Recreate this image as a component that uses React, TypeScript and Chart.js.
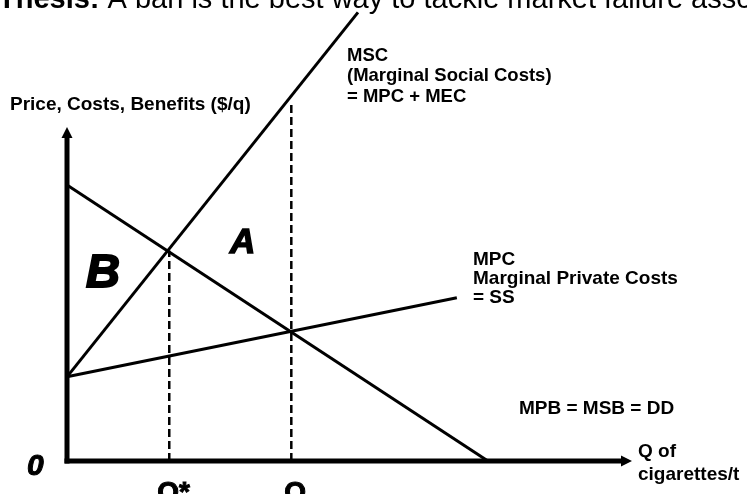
import React, { useEffect, useRef } from "react";
import { Chart, registerables } from "chart.js";

Chart.register(...registerables);

// ---- data (arbitrary units: quantity 0..100, price 0..100) ----
const demandCurve = [
  { x: 0, y: 82.6 },
  { x: 74.5, y: 0 },
];
const mscCurve = [
  { x: 0, y: 25.2 },
  { x: 51.5, y: 134.3 },
];
const mpcCurve = [
  { x: 0, y: 25.2 },
  { x: 69, y: 48.9 },
];
const qStar = 18.1;
const qStarPrice = 63;
const qMarket = 39.7;
const qMarketMsc = 107;
const axisMax = 100;

const titleBold = "Thesis:";
const titleRest = " A ban is the best way to tackle market failure associated with smoking";
const yAxisTitle = "Price, Costs, Benefits ($/q)";
const xAxisTitle = ["Q of", "cigarettes/t"];
const mscLabel = ["MSC", "(Marginal Social Costs)", "= MPC + MEC"];
const mpcLabel = ["MPC", "Marginal Private Costs", "= SS"];
const demandLabel = "MPB = MSB = DD";
const qStarLabel = "Q*";
const qLabel = "Q";
const originLabel = "0";
const areaA = "A";
const areaB = "B";

const FF = '"Liberation Sans", Arial, Helvetica, sans-serif';

const diagramPlugin = {
  id: "diagram",
  afterDatasetsDraw(chart: any) {
    const ctx = chart.ctx;
    const xs = chart.scales.x;
    const ys = chart.scales.y;
    const x0 = xs.getPixelForValue(0);
    const y0 = ys.getPixelForValue(0);
    const xEnd = xs.getPixelForValue(axisMax);
    const yEnd = ys.getPixelForValue(axisMax);
    ctx.save();
    ctx.strokeStyle = "#000";
    ctx.fillStyle = "#000";
    ctx.lineWidth = 5;
    ctx.lineCap = "butt";
    // x axis
    ctx.beginPath();
    ctx.moveTo(x0 - 2.5, y0);
    ctx.lineTo(xEnd - 9, y0);
    ctx.stroke();
    ctx.beginPath();
    ctx.moveTo(xEnd, y0);
    ctx.lineTo(xEnd - 11, y0 - 5.5);
    ctx.lineTo(xEnd - 11, y0 + 5.5);
    ctx.closePath();
    ctx.fill();
    // y axis
    ctx.beginPath();
    ctx.moveTo(x0, y0 + 2.5);
    ctx.lineTo(x0, yEnd + 9);
    ctx.stroke();
    ctx.beginPath();
    ctx.moveTo(x0, yEnd);
    ctx.lineTo(x0 - 5.5, yEnd + 11);
    ctx.lineTo(x0 + 5.5, yEnd + 11);
    ctx.closePath();
    ctx.fill();
    ctx.restore();
  },
  afterDraw(chart: any) {
    const ctx = chart.ctx;
    ctx.save();
    ctx.fillStyle = "#000";
    ctx.strokeStyle = "#000";
    ctx.textBaseline = "alphabetic";
    ctx.textAlign = "left";

    // title (cut off at top)
    ctx.font = `bold 29px ${FF}`;
    ctx.fillText(titleBold, -2, 8);
    const wb = ctx.measureText(titleBold).width;
    ctx.font = `29px ${FF}`;
    ctx.fillText(titleRest, -2 + wb, 8);

    // y axis title
    ctx.font = `bold 19px ${FF}`;
    ctx.fillText(yAxisTitle, 10, 110);

    // MSC label
    ctx.font = `bold 18.5px ${FF}`;
    mscLabel.forEach((t, i) => ctx.fillText(t, 347, 61 + i * 20.3));
    // MPC label
    ctx.font = `bold 19px ${FF}`;
    mpcLabel.forEach((t, i) => ctx.fillText(t, 473, 265 + i * 19));
    // demand label
    ctx.fillText(demandLabel, 519, 414);
    // x axis title
    ctx.fillText(xAxisTitle[0], 638, 457);
    ctx.fillText(xAxisTitle[1], 638, 480);

    // origin
    ctx.font = `italic bold 30px ${FF}`;
    ctx.lineWidth = 1;
    ctx.fillText(originLabel, 27, 475);
    ctx.strokeText(originLabel, 27, 475);

    // Q labels
    const xs = chart.scales.x;
    ctx.font = `bold 28px ${FF}`;
    ctx.lineWidth = 1;
    ctx.fillText(qStarLabel, xs.getPixelForValue(qStar) - 12, 501);
    ctx.strokeText(qStarLabel, xs.getPixelForValue(qStar) - 12, 501);
    ctx.fillText(qLabel, xs.getPixelForValue(qMarket) - 7, 501);
    ctx.strokeText(qLabel, xs.getPixelForValue(qMarket) - 7, 501);

    // areas
    ctx.font = `italic bold 47px ${FF}`;
    ctx.lineWidth = 2;
    ctx.fillText(areaB, 86, 287);
    ctx.strokeText(areaB, 86, 287);
    ctx.font = `italic bold 35px ${FF}`;
    ctx.lineWidth = 1.5;
    ctx.fillText(areaA, 230, 253);
    ctx.strokeText(areaA, 230, 253);

    ctx.restore();
  },
};

const lineDs = (label: string, data: any[], dash: number[] = [], width = 3) => ({
  label,
  data,
  showLine: true,
  borderColor: "#000",
  backgroundColor: "#000",
  borderWidth: width,
  borderDash: dash,
  pointRadius: 0,
  pointHoverRadius: 0,
  fill: false,
  tension: 0,
  clip: false as any,
});

export default function App() {
  const ref = useRef<HTMLCanvasElement>(null);
  useEffect(() => {
    if (!ref.current) return;
    const chart = new Chart(ref.current, {
      type: "scatter",
      data: {
        datasets: [
          lineDs("MPB = MSB = DD", demandCurve),
          lineDs("MSC", mscCurve),
          lineDs("MPC", mpcCurve),
          lineDs("Q*", [{ x: qStar, y: 0 }, { x: qStar, y: qStarPrice }], [8, 4], 2.5),
          lineDs("Q", [{ x: qMarket, y: 0 }, { x: qMarket, y: qMarketMsc }], [8, 4], 2.5),
        ],
      },
      options: {
        animation: false,
        responsive: false,
        events: [],
        layout: { padding: { left: 67, right: 115, top: 127, bottom: 33 } },
        plugins: {
          legend: { display: false },
          tooltip: { enabled: false },
          title: { display: false },
        },
        scales: {
          x: { type: "linear", min: 0, max: axisMax, display: false },
          y: { type: "linear", min: 0, max: axisMax, display: false },
        },
      },
      plugins: [diagramPlugin],
    });
    return () => chart.destroy();
  }, []);
  return (
    <div style={{ position: "absolute", left: 0, top: 0, width: 747, height: 494, background: "#fff" }}>
      <canvas ref={ref} width={747} height={494} style={{ display: "block" }} />
    </div>
  );
}
